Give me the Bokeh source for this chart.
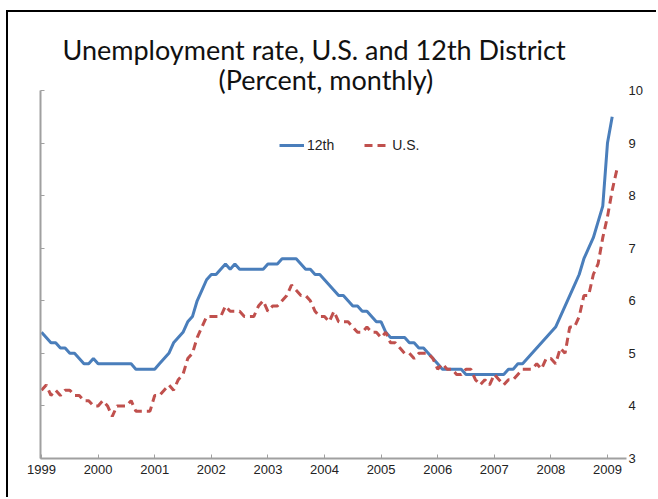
from bokeh.plotting import figure
from bokeh.models import Range1d, LinearAxis, Legend, LegendItem, FixedTicker, Title
from bokeh.embed import file_html
from bokeh.resources import INLINE

# ---- data (monthly, starting Jan 1999) ----
start_year = 1999
twelfth = [
    5.4, 5.3, 5.2, 5.2, 5.1, 5.1, 5.0, 5.0, 4.9, 4.8, 4.8, 4.9,   # 1999
    4.8, 4.8, 4.8, 4.8, 4.8, 4.8, 4.8, 4.8, 4.7, 4.7, 4.7, 4.7,   # 2000
    4.7, 4.8, 4.9, 5.0, 5.2, 5.3, 5.4, 5.6, 5.7, 6.0, 6.2, 6.4,   # 2001
    6.5, 6.5, 6.6, 6.7, 6.6, 6.7, 6.6, 6.6, 6.6, 6.6, 6.6, 6.6,   # 2002
    6.7, 6.7, 6.7, 6.8, 6.8, 6.8, 6.8, 6.7, 6.6, 6.6, 6.5, 6.5,   # 2003
    6.4, 6.3, 6.2, 6.1, 6.1, 6.0, 5.9, 5.9, 5.8, 5.8, 5.7, 5.6,   # 2004
    5.6, 5.4, 5.3, 5.3, 5.3, 5.3, 5.2, 5.2, 5.1, 5.1, 5.0, 4.9,   # 2005
    4.8, 4.7, 4.7, 4.7, 4.7, 4.7, 4.6, 4.6, 4.6, 4.6, 4.6, 4.6,   # 2006
    4.6, 4.6, 4.6, 4.7, 4.7, 4.8, 4.8, 4.9, 5.0, 5.1, 5.2, 5.3,   # 2007
    5.4, 5.5, 5.7, 5.9, 6.1, 6.3, 6.5, 6.8, 7.0, 7.2, 7.5, 7.8,   # 2008
    9.0, 9.5,                                                     # 2009
]
us = [
    4.3, 4.4, 4.2, 4.3, 4.2, 4.3, 4.3, 4.2, 4.2, 4.1, 4.1, 4.0,   # 1999
    4.0, 4.1, 4.0, 3.8, 4.0, 4.0, 4.0, 4.1, 3.9, 3.9, 3.9, 3.9,   # 2000
    4.2, 4.2, 4.3, 4.4, 4.3, 4.5, 4.6, 4.9, 5.0, 5.3, 5.5, 5.7,   # 2001
    5.7, 5.7, 5.7, 5.9, 5.8, 5.8, 5.8, 5.7, 5.7, 5.7, 5.9, 6.0,   # 2002
    5.8, 5.9, 5.9, 6.0, 6.1, 6.3, 6.2, 6.1, 6.1, 6.0, 5.8, 5.7,   # 2003
    5.7, 5.6, 5.8, 5.6, 5.6, 5.6, 5.5, 5.4, 5.4, 5.5, 5.4, 5.4,   # 2004
    5.3, 5.4, 5.2, 5.2, 5.1, 5.0, 5.0, 4.9, 5.0, 5.0, 5.0, 4.9,   # 2005
    4.7, 4.8, 4.7, 4.7, 4.6, 4.6, 4.7, 4.7, 4.5, 4.4, 4.5, 4.4,   # 2006
    4.6, 4.5, 4.4, 4.5, 4.5, 4.6, 4.7, 4.7, 4.7, 4.8, 4.7, 4.9,   # 2007
    4.9, 4.8, 5.1, 5.0, 5.5, 5.5, 5.7, 6.1, 6.1, 6.5, 6.7, 7.2,   # 2008
    7.6, 8.1, 8.5,                                                # 2009
]
year_ticks = list(range(1999, 2010))
y_ticks = [3, 4, 5, 6, 7, 8, 9, 10]
title_line1 = "Unemployment rate, U.S. and 12th District"
title_line2 = "(Percent, monthly)"

x_twelfth = [start_year + i / 12 for i in range(len(twelfth))]
x_us = [start_year + i / 12 for i in range(len(us))]

AXIS_GREY = "#a0a0a0"
TICK_FONT = "Liberation Sans"

p = figure(width=650, height=487, output_backend="svg", toolbar_location=None,
           x_range=Range1d(1998.982, 2009.336), y_range=Range1d(3, 10),
           y_axis_location=None, x_axis_location=None,
           min_border_left=32, min_border_right=32, min_border_top=78, min_border_bottom=41)
p.outline_line_color = None
p.xgrid.visible = False
p.ygrid.visible = False
p.background_fill_color = "white"
p.border_fill_color = "white"
p.styles = {"margin-left": "6px", "margin-top": "10px",
            "border-left": "2px solid #000", "border-top": "2px solid #000"}

# bottom axis
xax = LinearAxis(ticker=FixedTicker(ticks=year_ticks))
xax.axis_line_color = AXIS_GREY
xax.axis_line_width = 2
xax.major_tick_line_color = AXIS_GREY
xax.major_tick_in = 4
xax.major_tick_out = 0
xax.minor_tick_line_color = None
xax.major_label_text_font = TICK_FONT
xax.major_label_text_font_size = "13px"
xax.major_label_text_color = "#222222"
xax.major_label_standoff = 6
p.add_layout(xax, "below")

# left axis: line and inward ticks only (minor ticks, so no labels)
lax = LinearAxis(ticker=FixedTicker(ticks=[], minor_ticks=y_ticks))
lax.axis_line_color = AXIS_GREY
lax.axis_line_width = 2
lax.major_tick_line_color = None
lax.minor_tick_line_color = AXIS_GREY
lax.minor_tick_in = 4
lax.minor_tick_out = 0
p.add_layout(lax, "left")

# right axis: labels only
rax = LinearAxis(ticker=FixedTicker(ticks=y_ticks))
rax.axis_line_color = None
rax.major_tick_line_color = None
rax.minor_tick_line_color = None
rax.major_tick_in = 0
rax.major_tick_out = 0
rax.major_label_text_font = TICK_FONT
rax.major_label_text_font_size = "13px"
rax.major_label_text_color = "#222222"
rax.major_label_standoff = 2
p.add_layout(rax, "right")

r1 = p.line(x_twelfth, twelfth, line_color="#4a7ebb", line_width=3)
r2 = p.line(x_us, us, line_color="#c0504d", line_width=3, line_dash="8 5")

legend = Legend(items=[LegendItem(label="12th", renderers=[r1]),
                       LegendItem(label="U.S.", renderers=[r2])],
                orientation="horizontal", location=(239, 303),
                padding=0, margin=0, spacing=30, glyph_width=25, glyph_height=20,
                label_standoff=3, label_text_font=TICK_FONT, label_text_font_size="14px",
                label_text_color="#222222", background_fill_alpha=0, border_line_color=None)
p.add_layout(legend, "center")

t2 = Title(text=title_line2, align="left", offset=178, standoff=-11,
           text_font="Lato", text_font_size="27px", text_font_style="normal", text_color="#111111")
t1 = Title(text=title_line1, align="left", offset=22, standoff=1,
           text_font="Lato", text_font_size="27px", text_font_style="normal", text_color="#111111")
p.add_layout(t2, "above")
p.add_layout(t1, "above")

open("out.html", "w").write(file_html(p, INLINE))
